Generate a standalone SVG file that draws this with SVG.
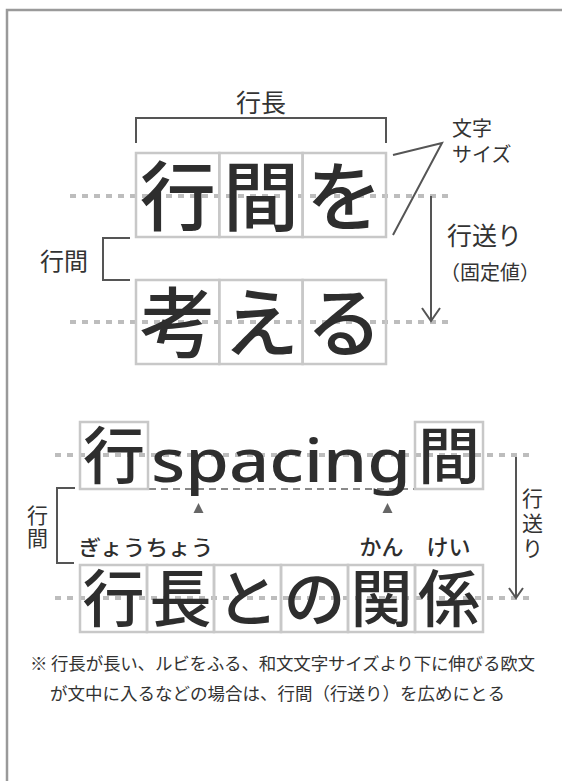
<svg xmlns="http://www.w3.org/2000/svg" width="562" height="781" viewBox="0 0 562 781">
<style>
.frame{fill:none;stroke:#9a9a9a;stroke-width:2.5}
.box{fill:none;stroke:#c8c8c8;stroke-width:2.5}
.dot{fill:none;stroke:#bdbdbd;stroke-width:4;stroke-dasharray:6 6}
.dash{fill:none;stroke:#8a8a8a;stroke-width:2;stroke-dasharray:7 5}
.ln{fill:none;stroke:#555;stroke-width:2}
.tri{fill:#666}
.big{font-family:"Noto Sans CJK JP","Noto Sans CJK SC",sans-serif;font-weight:500;fill:#2e2e2e;text-anchor:middle}
.lbl{font-family:"Noto Sans CJK JP","Noto Sans CJK SC",sans-serif;fill:#333}
.ruby{font-family:"Noto Sans CJK JP","Noto Sans CJK SC",sans-serif;font-weight:500;fill:#2e2e2e;text-anchor:middle}
.latin{font-family:"Noto Sans","DejaVu Sans",sans-serif;font-weight:500;fill:#2e2e2e}
</style>
<rect class="frame" x="7" y="10" width="620" height="820"/>

<g id="connectors">
  <line class="dot" x1="70" y1="196" x2="452" y2="196"/>
  <line class="dot" x1="70" y1="322" x2="452" y2="322"/>
  <path class="ln" d="M136,143 V118 H386 V143"/>
  <path class="ln" d="M393,155 L442,143 L393,235"/>
  <path class="ln" d="M431,196 V321 M422,308 L431,321 L440,308"/>
  <path class="ln" d="M130,238 H103 V280 H130"/>
  <line class="dot" x1="55" y1="455" x2="535" y2="455"/>
  <line class="dot" x1="55" y1="598" x2="535" y2="598"/>
  <line class="dash" x1="149" y1="489" x2="414" y2="489"/>
  <polygon class="tri" points="198.5,503 193.5,513 203.5,513"/>
  <polygon class="tri" points="387.5,503 382.5,513 392.5,513"/>
  <path class="ln" d="M75,488 H57 V563 H74"/>
  <path class="ln" d="M516,457 V598 M509,588 L516,598 L523,588"/>
</g>

<g id="label-gyocho">
  <text class="lbl" x="261" y="112" font-size="25" text-anchor="middle">行長</text>
</g>
<g id="label-mojisize">
  <text class="lbl" x="452" y="136" font-size="20">文字</text>
  <text class="lbl" x="452" y="162" font-size="20">サイズ</text>
</g>
<g id="label-gyookuri-top">
  <text class="lbl" x="447" y="245" font-size="25">行送り</text>
  <text class="lbl" x="440" y="280" font-size="20">（固定値）</text>
</g>
<g id="label-gyokan-top">
  <text class="lbl" x="40" y="270" font-size="24">行間</text>
</g>

<g id="row1">
  <rect class="box" x="136" y="153" width="83.3" height="84"/>
  <rect class="box" x="219.3" y="153" width="83.3" height="84"/>
  <rect class="box" x="302.6" y="153" width="83.4" height="84"/>
  <text class="big" font-size="76" x="177.7" y="225">行</text>
  <text class="big" font-size="76" x="261" y="225">間</text>
  <text class="big" font-size="76" x="344.3" y="225">を</text>
</g>
<g id="row2">
  <rect class="box" x="136" y="280" width="83.3" height="84"/>
  <rect class="box" x="219.3" y="280" width="83.3" height="84"/>
  <rect class="box" x="302.6" y="280" width="83.4" height="84"/>
  <text class="big" font-size="76" x="177.7" y="351">考</text>
  <text class="big" font-size="76" x="261" y="351">え</text>
  <text class="big" font-size="76" x="344.3" y="351">る</text>
</g>

<g id="row3">
  <rect class="box" x="80" y="422" width="68" height="67"/>
  <rect class="box" x="415" y="422" width="68" height="67"/>
  <text class="big" font-size="62" x="114" y="479">行</text>
  <text class="latin" font-size="60" x="151" y="482" textLength="260" lengthAdjust="spacingAndGlyphs">spacing</text>
  <text class="big" font-size="62" x="449" y="479">間</text>
</g>

<g id="label-gyokan-bottom">
  <text class="lbl" x="27" y="523" font-size="21">行</text>
  <text class="lbl" x="27" y="546" font-size="21">間</text>
</g>
<g id="label-gyookuri-bottom">
  <text class="lbl" x="522" y="506" font-size="21">行</text>
  <text class="lbl" x="522" y="531" font-size="21">送</text>
  <text class="lbl" x="522" y="556" font-size="21">り</text>
</g>

<g id="ruby">
  <text class="ruby" x="146" y="555" font-size="21" textLength="135" lengthAdjust="spacingAndGlyphs">ぎょうちょう</text>
  <text class="ruby" x="381.5" y="555" font-size="22">かん</text>
  <text class="ruby" x="448.5" y="555" font-size="22">けい</text>
</g>

<g id="row4">
  <rect class="box" x="80" y="565" width="67" height="67"/>
  <rect class="box" x="147" y="565" width="67" height="67"/>
  <rect class="box" x="214" y="565" width="67" height="67"/>
  <rect class="box" x="281" y="565" width="67" height="67"/>
  <rect class="box" x="348" y="565" width="67" height="67"/>
  <rect class="box" x="415" y="565" width="68" height="67"/>
  <text class="big" font-size="62" x="113.5" y="622">行</text>
  <text class="big" font-size="62" x="180.5" y="622">長</text>
  <text class="big" font-size="62" x="247.5" y="622">と</text>
  <text class="big" font-size="62" x="314.5" y="622">の</text>
  <text class="big" font-size="62" x="381.5" y="622">関</text>
  <text class="big" font-size="62" x="449" y="622">係</text>
</g>

<g id="note">
  <text class="lbl" x="30" y="670" font-size="17.5" textLength="505" lengthAdjust="spacing">※ 行長が長い、ルビをふる、和文文字サイズより下に伸びる欧文</text>
  <text class="lbl" x="50" y="700" font-size="17.5">が文中に入るなどの場合は、行間（行送り）を広めにとる</text>
</g>
</svg>
